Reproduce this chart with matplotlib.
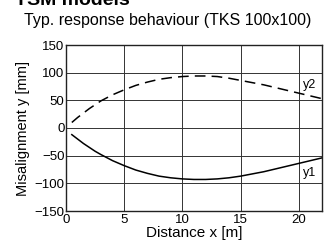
import matplotlib
matplotlib.use("Agg")
import matplotlib.pyplot as plt

plt.rcParams['font.family'] = ['Liberation Sans', 'DejaVu Sans']

x_vals = [0.5, 1, 1.5, 2, 2.5, 3, 4, 5, 6, 7, 8, 9, 10, 11, 12, 13, 14, 15, 16, 17, 18, 19, 20, 21, 22]
y2_vals = [10, 19, 27, 35, 42, 49, 60, 69, 77, 83, 88, 91, 93, 94, 94, 93, 90, 86, 82, 78, 73, 68, 63, 58, 53]
y1_vals = [-12, -20, -28, -35, -42, -48, -59, -68, -76, -82, -87, -90, -92, -93, -93, -92, -90, -87, -83, -79, -74, -69, -64, -59, -54]

x_ticks = [0, 5, 10, 15, 20]
y_ticks = [-150, -100, -50, 0, 50, 100, 150]

fig = plt.figure(figsize=(3.31, 2.44), dpi=100)
ax = fig.add_axes([66/331, 1 - 211/244, (322-66)/331, (211-45)/244])

ax.plot(x_vals, y2_vals, color='black', lw=1.1, ls=(0, (7, 4)))
ax.plot(x_vals, y1_vals, color='black', lw=1.1)

ax.set_xlim(0, 22)
ax.set_ylim(-150, 150)
ax.set_xticks(x_ticks)
ax.set_yticks(y_ticks)
ax.tick_params(length=0, labelsize=9.5, pad=1)
ax.tick_params(axis='x', pad=2)
ax.grid(True, color='#333333', lw=0.7)
for s in ax.spines.values():
    s.set_linewidth(1.0)
    s.set_color('#222222')

ax.text(20.9, 78, 'y2', fontsize=9, ha='center', va='center')
ax.text(20.9, -81, 'y1', fontsize=9, ha='center', va='center')

ax.set_xlabel('Distance x [m]', fontsize=11, labelpad=0)
ax.set_ylabel('Misalignment y [mm]', fontsize=10.5, labelpad=3)

fig.text(168/331, 1 - 20/244, 'Typ. response behaviour (TKS 100x100)', fontsize=11.5,
         ha='center', va='center')
fig.text(15/331, 1 - 5/244, 'TSM models', fontsize=14, fontweight='bold',
         ha='left', va='baseline')

fig.savefig('out.png', dpi=100)
